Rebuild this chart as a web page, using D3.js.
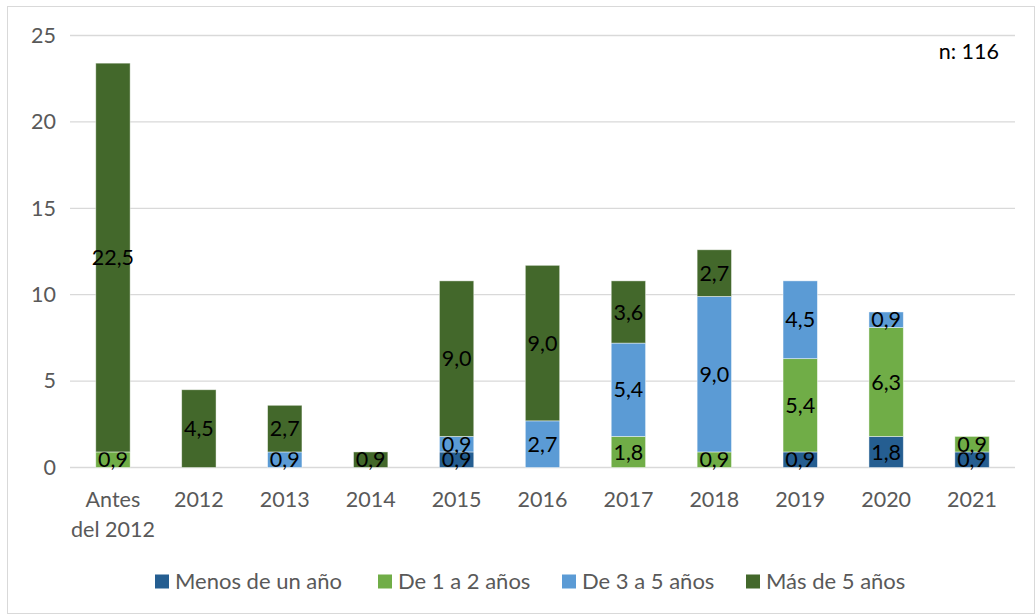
<!DOCTYPE html>
<html>
<head>
<meta charset="utf-8">
<script src="https://cdn.jsdelivr.net/npm/d3@7"></script>
<style>
  html, body { margin: 0; padding: 0; background: #fff; }
  svg { display: block; font-family: Lato, "Open Sans", sans-serif; }
</style>
</head>
<body>
<svg id="chart" width="1035" height="615"></svg>
<script>
// Categories (year of start) and the four duration series, in percent
const categories = ["Antes del 2012", "2012", "2013", "2014", "2015", "2016", "2017", "2018", "2019", "2020", "2021"];
const seriesNames = ["Menos de un año", "De 1 a 2 años", "De 3 a 5 años", "Más de 5 años"];
const menosDeUnAno = [0, 0, 0, 0, 0.9, 0, 0, 0, 0.9, 1.8, 0.9];
const de1a2 =        [0.9, 0, 0, 0, 0, 0, 1.8, 0.9, 5.4, 6.3, 0.9];
const de3a5 =        [0, 0, 0.9, 0, 0.9, 2.7, 5.4, 9.0, 4.5, 0.9, 0];
const masDe5 =       [22.5, 4.5, 2.7, 0.9, 9.0, 9.0, 3.6, 2.7, 0, 0, 0];
const yTicks = [0, 5, 10, 15, 20, 25];
const sampleNote = "n: 116";

const colors = ["#255E91", "#70AD47", "#5B9BD5", "#43682B"];

const svg = d3.select("#chart");
const W = 1035, H = 615;
const margin = { top: 35.5, left: 70, right: 20, bottom: 147.5 };
const plotW = W - margin.left - margin.right;
const plotH = H - margin.top - margin.bottom;
const fontSize = 21.5;

// Outer chart frame
svg.append("rect")
  .attr("x", 7.5).attr("y", 6.5)
  .attr("width", W - 8).attr("height", H - 8)
  .attr("fill", "#fff").attr("stroke", "#d9d9d9").attr("stroke-width", 1);

const g = svg.append("g").attr("transform", `translate(${margin.left},${margin.top})`);

const rows = categories.map((c, i) => ({
  cat: c,
  [seriesNames[0]]: menosDeUnAno[i],
  [seriesNames[1]]: de1a2[i],
  [seriesNames[2]]: de3a5[i],
  [seriesNames[3]]: masDe5[i]
}));

const stacked = d3.stack().keys(seriesNames)(rows);

const x = d3.scaleBand().domain(categories).range([0, plotW]).paddingInner(0.6).paddingOuter(0.3);
const y = d3.scaleLinear().domain([0, 25]).range([plotH, 0]);

// Horizontal gridlines
g.append("g").selectAll("line").data(yTicks).join("line")
  .attr("x1", 0).attr("x2", plotW)
  .attr("y1", d => y(d)).attr("y2", d => y(d))
  .attr("stroke", "#d9d9d9").attr("stroke-width", 1.3);

// Y axis labels
const yAxis = g.append("g").call(d3.axisLeft(y).tickValues(yTicks).tickSize(0).tickPadding(14).tickFormat(d3.format("d")));
yAxis.select(".domain").remove();
yAxis.selectAll("text").attr("fill", "#595959").attr("font-size", fontSize).attr("font-family", "Lato, sans-serif");

// X axis labels (wrapped category names)
const xAxis = g.append("g").attr("transform", `translate(0,${plotH})`)
  .call(d3.axisBottom(x).tickSize(0).tickPadding(0).tickFormat(() => ""));
xAxis.select(".domain").remove();
xAxis.selectAll(".tick").each(function(d) {
  const t = d3.select(this).append("text")
    .attr("fill", "#595959").attr("font-size", fontSize).attr("font-family", "Lato, sans-serif")
    .attr("text-anchor", "middle").attr("y", 39.5);
  const parts = d === "Antes del 2012" ? ["Antes", "del 2012"] : [d];
  parts.forEach((p, k) => t.append("tspan").attr("x", 0).attr("dy", k === 0 ? 0 : 30).text(p));
});

// Stacked bars
const layers = g.selectAll(".layer").data(stacked).join("g")
  .attr("class", "layer")
  .attr("fill", (d, i) => colors[i]);

layers.selectAll("rect").data(d => d.map(s => ({ s, key: d.key }))).join("rect")
  .filter(d => d.s[1] - d.s[0] > 0)
  .attr("x", d => x(d.s.data.cat))
  .attr("y", d => y(d.s[1]))
  .attr("width", x.bandwidth())
  .attr("height", d => y(d.s[0]) - y(d.s[1]))
  .attr("stroke", "#ffffff").attr("stroke-opacity", 0.55).attr("stroke-width", 0.8);

// Value labels centred in each segment
const fmt = v => d3.format(".1f")(v).replace(".", ",");
layers.selectAll("text").data(d => d.filter(s => s[1] - s[0] > 0)).join("text")
  .attr("x", s => x(s.data.cat) + x.bandwidth() / 2)
  .attr("y", s => (y(s[0]) + y(s[1])) / 2)
  .attr("dy", "0.36em")
  .attr("text-anchor", "middle")
  .attr("fill", "#000")
  .attr("font-size", fontSize)
  .text(s => fmt(s[1] - s[0]));

// Sample size note
svg.append("text")
  .attr("x", 999).attr("y", 59)
  .attr("text-anchor", "end")
  .attr("font-size", fontSize).attr("fill", "#000")
  .text(sampleNote);

// Legend
const legendX = [155, 378, 562, 746];
const legend = svg.append("g").attr("transform", "translate(0,581.5)");
seriesNames.forEach((name, i) => {
  legend.append("rect").attr("x", legendX[i]).attr("y", -7).attr("width", 14).attr("height", 14).attr("fill", colors[i]);
  legend.append("text").attr("x", legendX[i] + 20).attr("y", 0).attr("dy", "0.36em")
    .attr("font-size", 22).attr("fill", "#595959").text(name);
});
</script>
</body>
</html>
